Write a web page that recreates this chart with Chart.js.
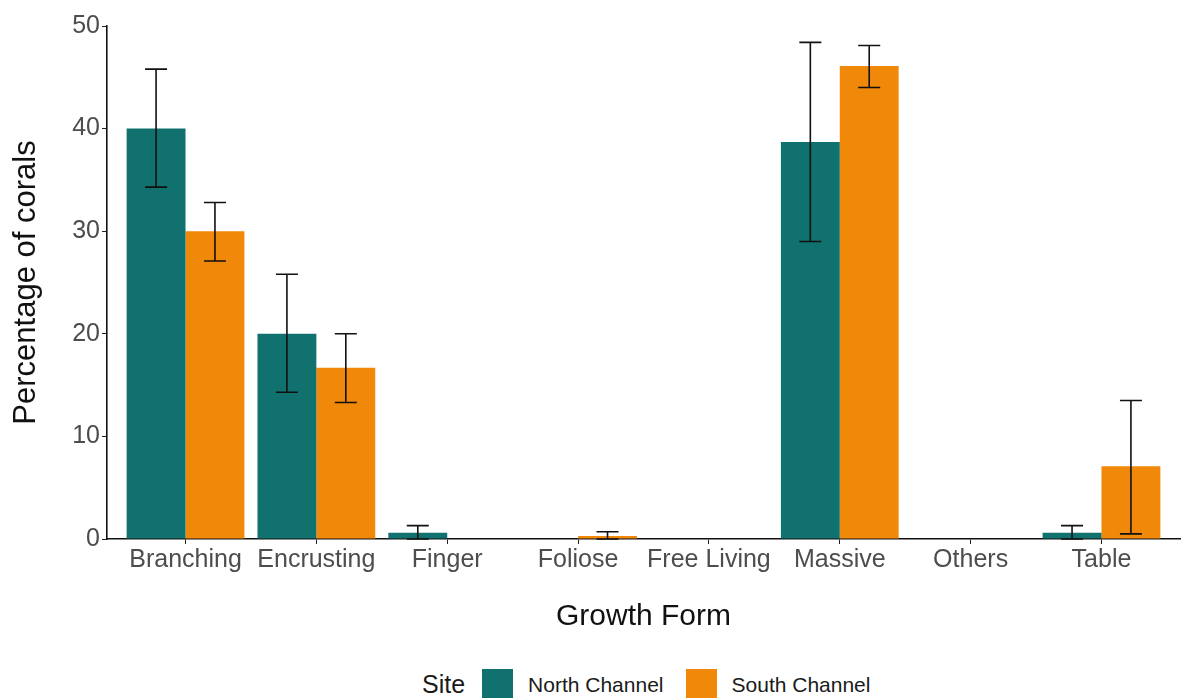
<!DOCTYPE html>
<html>
<head>
<meta charset="utf-8">
<script src="https://cdn.jsdelivr.net/npm/chart.js@4"></script>
<style>
  body { margin: 0; background: #fff; font-family: "Liberation Sans", Arial, sans-serif; }
  #wrap { position: relative; width: 1192px; height: 698px; overflow: hidden; }
  #box { position: absolute; left: 0; top: 0; width: 1192px; height: 650px; }
  #legend { position: absolute; left: 422px; top: 669px; display: flex; align-items: center; color: #1a1a1a; white-space: nowrap; }
  #legend .title { font-size: 25px; margin-right: 17px; }
  #legend .sw { width: 31px; height: 31px; margin-right: 15px; }
  #legend .lab { font-size: 21px; margin-right: 22px; }
</style>
</head>
<body>
<div id="wrap">
  <div id="box"><canvas id="chart"></canvas></div>
  <div id="legend"></div>
</div>
<script>
// Growth forms on the x axis
const categories = ['Branching', 'Encrusting', 'Finger', 'Foliose', 'Free Living', 'Massive', 'Others', 'Table'];

// Mean percentage of corals per site
const northValues = [40, 20, 0.6, 0, 0, 38.7, 0, 0.6];
const southValues = [30, 16.7, 0, 0.3, 0, 46.1, 0, 7.1];

// Error bar limits (null = no bar drawn)
const northLower = [34.3, 14.3, 0, null, null, 29.0, null, 0];
const northUpper = [45.8, 25.8, 1.3, null, null, 48.4, null, 1.3];
const southLower = [27.1, 13.3, null, 0, null, 44.0, null, 0.5];
const southUpper = [32.8, 20.0, null, 0.7, null, 48.1, null, 13.5];

const yTicks = [0, 10, 20, 30, 40, 50];

const siteNames = ['North Channel', 'South Channel'];
const siteColors = ['#11716e', '#f0880a'];

const toPoints = vals => vals.map((v, i) => ({ x: i, y: v }));

// draws the whiskers on top of the bars
const errorBars = {
    id: 'errorBars',
    afterDatasetsDraw(chart) {
        const ctx = chart.ctx;
        const yScale = chart.scales.y;
        chart.data.datasets.forEach((ds, di) => {
            const meta = chart.getDatasetMeta(di);
            meta.data.forEach((bar, i) => {
                const lo = ds.errLow[i], hi = ds.errHigh[i];
                if (lo == null || hi == null) return;
                const yLo = yScale.getPixelForValue(lo);
                const yHi = yScale.getPixelForValue(hi);
                const half = 11;
                ctx.save();
                ctx.strokeStyle = '#111';
                ctx.lineWidth = 1.6;
                ctx.beginPath();
                ctx.moveTo(bar.x, yLo); ctx.lineTo(bar.x, yHi);
                ctx.moveTo(bar.x - half, yHi); ctx.lineTo(bar.x + half, yHi);
                ctx.moveTo(bar.x - half, yLo); ctx.lineTo(bar.x + half, yLo);
                ctx.stroke();
                ctx.restore();
            });
        });
    }
};

const ctx = document.getElementById('chart').getContext('2d');
new Chart(ctx, {
    type: 'bar',
    data: {
        datasets: [{
            label: siteNames[0],
            data: toPoints(northValues),
            errLow: northLower,
            errHigh: northUpper,
            backgroundColor: siteColors[0]
        }, {
            label: siteNames[1],
            data: toPoints(southValues),
            errLow: southLower,
            errHigh: southUpper,
            backgroundColor: siteColors[1]
        }]
    },
    options: {
        responsive: true,
        maintainAspectRatio: false,
        animation: false,
        categoryPercentage: 0.9,
        barPercentage: 1,
        layout: { padding: { top: 26, right: 12, left: 0, bottom: 0 } },
        scales: {
            x: {
                type: 'linear',
                min: -0.6,
                max: 7.6,
                offset: false,
                afterBuildTicks: scale => {
                    scale.ticks = categories.map((c, i) => ({ value: i }));
                },
                afterFit: scale => { scale.height = 111; },
                ticks: {
                    autoSkip: false,
                    maxRotation: 0,
                    color: '#4d4d4d',
                    font: { family: 'Liberation Sans', size: 25 },
                    padding: 1,
                    callback: v => categories[v]
                },
                grid: { display: true, drawOnChartArea: false, drawTicks: true, tickLength: 5, color: '#222', offset: false },
                border: { display: true, color: '#111', width: 1.6 },
                title: {
                    display: true,
                    text: 'Growth Form',
                    color: '#111',
                    font: { family: 'Liberation Sans', size: 30 },
                    padding: { top: 0, bottom: 15 }
                }
            },
            y: {
                min: 0,
                max: 50,
                afterBuildTicks: scale => {
                    scale.ticks = yTicks.map(v => ({ value: v }));
                },
                afterFit: scale => { scale.width = 107; },
                ticks: {
                    color: '#4d4d4d',
                    font: { family: 'Liberation Sans', size: 25 },
                    padding: 2
                },
                grid: { display: true, drawOnChartArea: false, drawTicks: true, tickLength: 5, color: '#222' },
                border: { display: true, color: '#111', width: 1.6 },
                title: {
                    display: true,
                    text: 'Percentage of corals',
                    color: '#111',
                    font: { family: 'Liberation Sans', size: 31 },
                    padding: { top: 8, bottom: 0 }
                }
            }
        },
        plugins: {
            legend: { display: false },
            tooltip: { enabled: false }
        }
    },
    plugins: [errorBars]
});

// legend below the chart, ggplot style with the "Site" title inline
const legendEl = document.getElementById('legend');
legendEl.innerHTML = '<span class="title">Site</span>' +
    siteNames.map((n, i) => '<span class="sw" style="background:' + siteColors[i] + '"></span><span class="lab">' + n + '</span>').join('');
</script>
</body>
</html>
